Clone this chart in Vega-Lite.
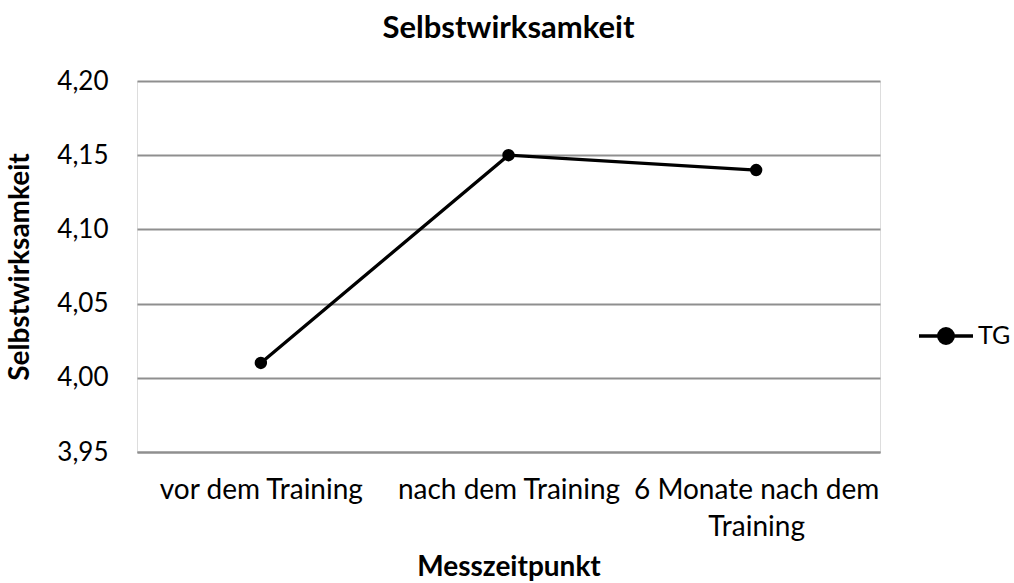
{
  "$schema": "https://vega.github.io/schema/vega-lite/v6.json",
  "autosize": {"type": "none"},
  "padding": {"left": 137, "top": 81, "right": 134, "bottom": 131},
  "width": 743,
  "height": 371,
  "background": "white",
  "title": {
    "text": "Selbstwirksamkeit",
    "font": "Lato",
    "fontSize": 31,
    "fontWeight": "bold",
    "color": "black",
    "anchor": "middle",
    "offset": 23
  },
  "data": {
    "values": [
      {"Messzeitpunkt": "vor dem Training", "Wert": 4.01, "Gruppe": "TG"},
      {"Messzeitpunkt": "nach dem Training", "Wert": 4.15, "Gruppe": "TG"},
      {"Messzeitpunkt": "6 Monate nach dem Training", "Wert": 4.14, "Gruppe": "TG"}
    ]
  },
  "mark": {"type": "line", "strokeWidth": 3.3, "point": {"filled": true, "size": 154, "opacity": 1}},
  "encoding": {
    "x": {
      "field": "Messzeitpunkt",
      "type": "nominal",
      "sort": null,
      "scale": {"type": "point", "padding": 0.5},
      "axis": {
        "title": "Messzeitpunkt",
        "titleFont": "Lato",
        "titleFontSize": 28,
        "titleFontWeight": "bold",
        "titleColor": "black",
        "titlePadding": 12,
        "labelAngle": 0,
        "labelFont": "Lato",
        "labelFontSize": 28,
        "labelColor": "black",
        "labelPadding": 24,
        "labelLineHeight": 37,
        "labelLimit": 400,
        "labelOverlap": false,
        "labelExpr": "datum.label == '6 Monate nach dem Training' ? ['6 Monate nach dem', 'Training'] : datum.label",
        "ticks": false,
        "domainColor": "#8f8f8f",
        "domainWidth": 2,
        "grid": false
      }
    },
    "y": {
      "field": "Wert",
      "type": "quantitative",
      "scale": {"domain": [3.95, 4.2], "zero": false, "nice": false},
      "axis": {
        "title": "Selbstwirksamkeit",
        "titleFont": "Lato",
        "titleFontSize": 28,
        "titleFontWeight": "bold",
        "titleColor": "black",
        "titlePadding": 22,
        "values": [3.95, 4.0, 4.05, 4.1, 4.15, 4.2],
        "labelExpr": "replace(format(datum.value, '.2f'), '.', ',')",
        "labelFont": "Lato",
        "labelFontSize": 26,
        "labelColor": "black",
        "labelPadding": 29,
        "ticks": false,
        "domain": false,
        "grid": true,
        "gridColor": "#8f8f8f",
        "gridWidth": 2
      }
    },
    "color": {
      "field": "Gruppe",
      "type": "nominal",
      "scale": {"range": ["black"]},
      "legend": {
        "title": null,
        "orient": "none",
        "legendX": 780,
        "legendY": 226,
        "labelFont": "Lato",
        "labelFontSize": 25,
        "labelColor": "black",
        "labelLimit": 100,
        "symbolType": "M-1,0L1,0M-0.27,0A0.27,0.27 0 1,1 0.27,0A0.27,0.27 0 1,1 -0.27,0Z",
        "symbolSize": 2916,
        "symbolStrokeWidth": 3.3,
        "symbolFillColor": "black",
        "symbolStrokeColor": "black",
        "labelOffset": 3
      }
    }
  }
}
